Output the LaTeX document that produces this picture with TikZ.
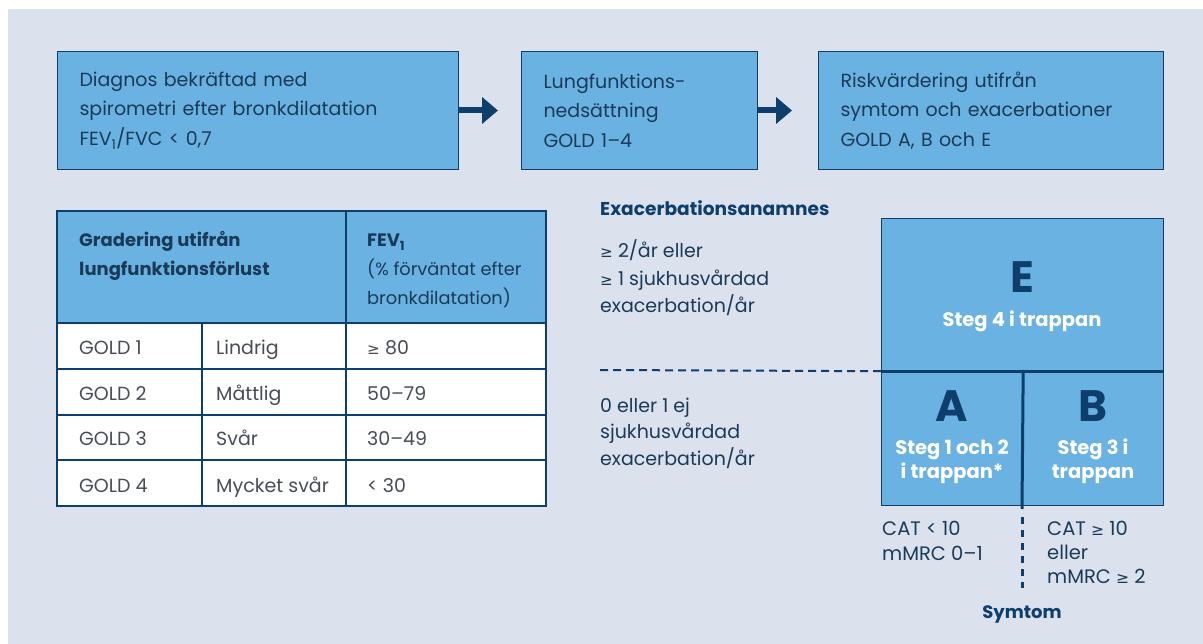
\documentclass[tikz,border=0pt]{standalone}
\usepackage{fontspec}
\setmainfont{Poppins}
\newfontfamily\symfont[Scale=0.8]{DejaVu Sans}
\newcommand{\mygeq}{{\symfont ≥}}
\usetikzlibrary{arrows.meta}
\definecolor{bg}{HTML}{DCE2ED}
\definecolor{boxfill}{HTML}{6AB2E2}
\definecolor{navy}{HTML}{0E3F6C}
\definecolor{boxtext}{HTML}{1B3A58}
\definecolor{graytext}{HTML}{474D57}
\tikzset{
  flowbox/.style={draw=navy, line width=1pt, fill=boxfill, anchor=north west,
    minimum height=118pt, inner xsep=22pt, inner ysep=0pt, align=left, text=boxtext,
    font=\fontsize{19}{29.5}\selectfont},
  flowarrow/.style={navy, line width=6pt, -{Triangle[length=16pt,width=26pt]}},
  tline/.style={navy, line width=1.2pt},
  celltext/.style={anchor=base west, inner sep=0pt, text=graytext, font=\fontsize{19}{24}\selectfont},
  headtext/.style={anchor=base west, inner sep=0pt, align=left, text=boxtext, font=\fontsize{18}{28.5}\selectfont\bfseries},
  sidetext/.style={anchor=base west, inner sep=0pt, align=left, text=boxtext, font=\fontsize{19}{27.5}\selectfont},
  gridbox/.style={fill=boxfill, draw=navy, line width=1.2pt, anchor=north west, inner sep=0pt},
  bigletter/.style={anchor=base, inner sep=0pt, text=navy, font=\fontsize{44}{44}\selectfont\bfseries},
  stegtext/.style={anchor=base, inner sep=0pt, align=center, text=white, font=\fontsize{19.5}{23.5}\selectfont\bfseries},
  divider/.style={navy, line width=3pt},
  dashline/.style={navy, line width=2pt, dash pattern=on 8pt off 5pt},
}
\begin{document}
\begin{tikzpicture}[x=1pt,y=-1pt]
\useasboundingbox (0,0) rectangle (1203,644);
\fill[bg] (8,9) rectangle (1203,644);

% flow boxes
\node[flowbox, text width=357pt] (b1) at (57,51) {Diagnos bekräftad med\\spirometri efter bronkdilatation\\FEV\textsubscript{1}/FVC < 0,7};
\node[flowbox, text width=192pt] (b2) at (521,51) {Lungfunktions-\\nedsättning\\GOLD 1–4};
\node[flowbox, text width=301pt] (b3) at (818,51) {Riskvärdering utifrån\\symtom och exacerbationer\\GOLD A, B och E};
\draw[flowarrow, shorten >=23pt] (b1.east) -- (b2.west);
\draw[flowarrow, shorten >=26pt] (b2.east) -- (b3.west);

% table
\fill[boxfill] (57,211) rectangle (546,323);
\fill[white] (57,323) rectangle (546,506);
\draw[tline] (57,211) rectangle (546,506);
\draw[tline] (346,211) -- (346,506);
\draw[tline] (202,323) -- (202,506);
\foreach \yy in {323,369,415,460} \draw[tline] (57,\yy) -- (546,\yy);

\node[headtext] (h1) at (79,275.5) {Gradering utifrån\\lungfunktionsförlust};
\node[headtext] (h2) at (367,247) {FEV\textsubscript{1}};
\node[sidetext, font=\fontsize{17.8}{29}\selectfont] (h3) at (367,305) {(\% förväntat efter\\bronkdilatation)};

\node[celltext] (g1) at (79,355) {GOLD 1};
\node[celltext] (g2) at (79,401) {GOLD 2};
\node[celltext] (g3) at (79,446) {GOLD 3};
\node[celltext] (g4) at (79,492) {GOLD 4};
\node[celltext] (s1) at (216,355) {Lindrig};
\node[celltext] (s2) at (216,401) {Måttlig};
\node[celltext] (s3) at (216,446) {Svår};
\node[celltext] (s4) at (216,492) {Mycket svår};
\node[celltext] (v1) at (367,355) {\mygeq{} 80};
\node[celltext] (v2) at (367,401) {50–79};
\node[celltext] (v3) at (367,446) {30–49};
\node[celltext] (v4) at (367,492) {< 30};

% exacerbation side
\node[headtext, text=navy, font=\fontsize{18.6}{24}\selectfont\bfseries] (exh) at (600,216) {Exacerbationsanamnes};
\node[sidetext] (ex1) at (600,313) {\mygeq{} 2/år eller\\\mygeq{} 1 sjukhusvårdad\\exacerbation/år};
\node[sidetext, font=\fontsize{19}{26.5}\selectfont] (ex2) at (600,465) {0 eller 1 ej\\sjukhusvårdad\\exacerbation/år};

% grid
\node[gridbox, minimum width=282pt, minimum height=152pt] (E) at (881,218) {};
\node[gridbox, minimum width=141pt, minimum height=135pt] (A) at (881,370) {};
\node[gridbox, minimum width=141pt, minimum height=135pt] (B) at (1022,370) {};
\coordinate (dstart) at (600,370);
\coordinate (solidend) at (1022,509);
\coordinate (dtop) at (1022,517);
\coordinate (dbot) at (1022,588);
\draw[dashline] (dstart) -- (E.south west);
\draw[divider] (E.south west) -- (E.south east);
\draw[divider] (A.north east) -- (solidend);
\draw[divider, dash pattern=on 7pt off 6pt] (dtop) -- (dbot);

\node[bigletter] (lE) at (1022,293) {E};
\node[stegtext] (tE) at (1022,327) {Steg 4 i trappan};
\node[bigletter] (lA) at (952,421) {A};
\node[stegtext] (tA) at (952,478) {Steg 1 och 2\\i trappan*};
\node[bigletter] (lB) at (1093,421) {B};
\node[stegtext] (tB) at (1093,478) {Steg 3 i\\trappan};

\node[sidetext, font=\fontsize{19.5}{25}\selectfont] (c1) at (882,560) {CAT < 10\\mMRC 0–1};
\node[sidetext, font=\fontsize{19.5}{24}\selectfont] (c2) at (1047,583) {CAT \mygeq{} 10\\eller\\mMRC \mygeq{} 2};
\node[headtext, anchor=base, text=navy] (sym) at (1022,618) {Symtom};
\end{tikzpicture}
\end{document}
